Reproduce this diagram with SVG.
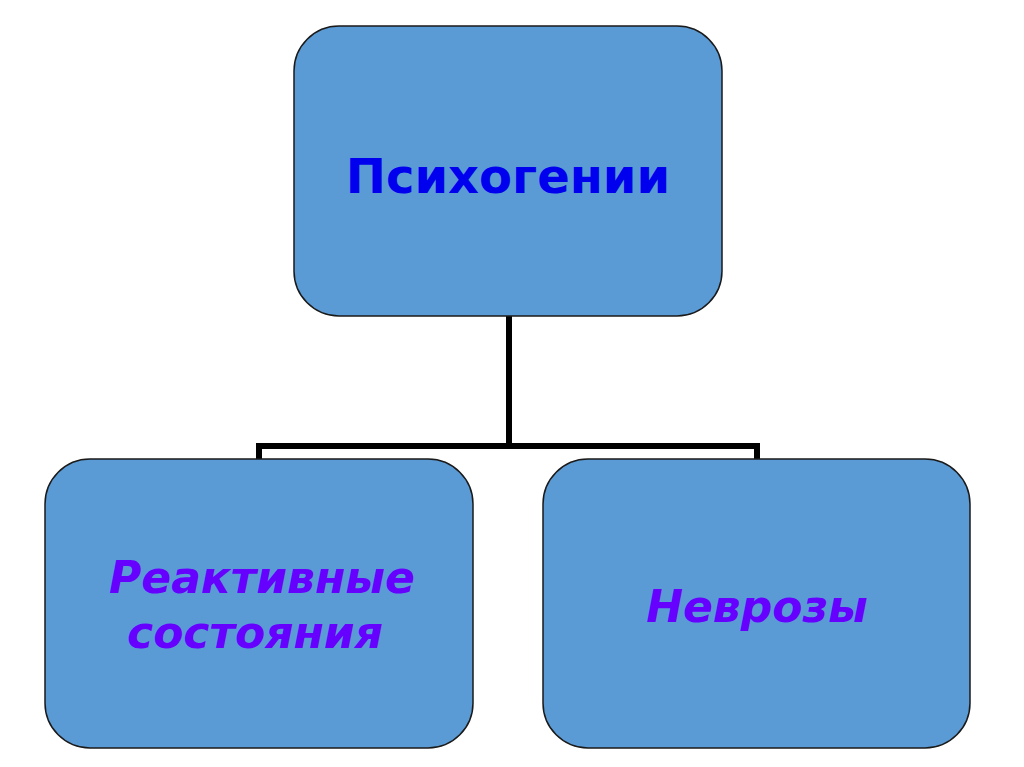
<svg xmlns="http://www.w3.org/2000/svg" width="1024" height="767" viewBox="0 0 1024 767">
<style>
.box{fill:#5B9BD5;stroke:#1a1a1a;stroke-width:1.5}
.conn{fill:none;stroke:#000;stroke-width:6;stroke-linejoin:miter}
.t1{font-family:"DejaVu Sans",Verdana,sans-serif;font-weight:bold;fill:#0000EE;text-anchor:middle}
.t2{font-family:"DejaVu Sans",Verdana,sans-serif;font-weight:bold;font-style:italic;fill:#6600FF;text-anchor:middle}
</style>
<rect width="1024" height="767" fill="#fff"/>
<g id="connectors">
<path class="conn" d="M509 316 V446 M259 460 V446 H757 V460"/>
</g>
<g id="node-top">
<rect class="box" x="294" y="26" width="428" height="290" rx="45"/>
<text class="t1" x="508" y="193" font-size="48">Психогении</text>
</g>
<g id="node-left">
<rect class="box" x="45" y="459" width="428" height="289" rx="45"/>
<text class="t2" x="262" y="593" font-size="44">Реактивные</text>
<text class="t2" x="255" y="648" font-size="44">состояния</text>
</g>
<g id="node-right">
<rect class="box" x="543" y="459" width="427" height="289" rx="45"/>
<text class="t2" x="757" y="622" font-size="44">Неврозы</text>
</g>
</svg>
